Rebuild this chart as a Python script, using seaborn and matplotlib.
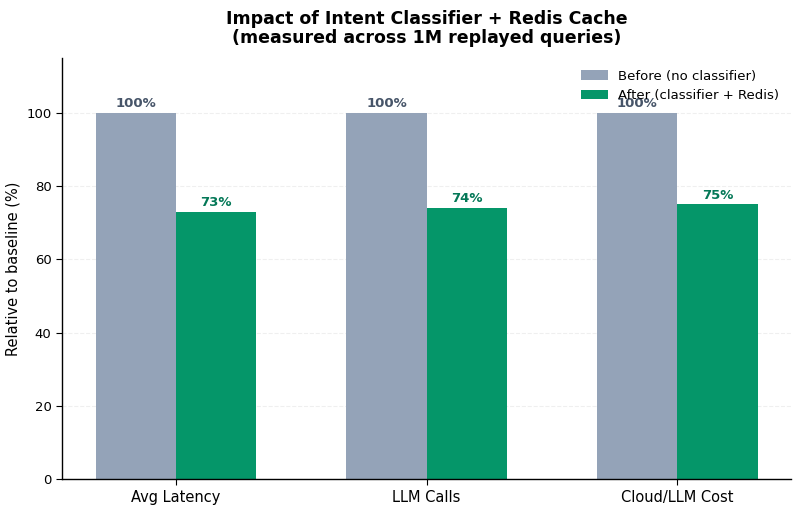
import seaborn as sns
import matplotlib.pyplot as plt
import pandas as pd

metrics = ["Avg Latency", "LLM Calls", "Cloud/LLM Cost"]
before_vals = [100, 100, 100]
after_vals = [73, 74, 75]
series = ["Before (no classifier)", "After (classifier + Redis)"]

df = pd.DataFrame({
    "metric": metrics * 2,
    "value": before_vals + after_vals,
    "series": [series[0]] * 3 + [series[1]] * 3,
})

sns.set_style("white")
plt.rcParams['font.family'] = ['DejaVu Sans']
plt.rcParams['text.color'] = 'black'
plt.rcParams['axes.labelcolor'] = 'black'
plt.rcParams['xtick.color'] = 'black'
plt.rcParams['ytick.color'] = 'black'

fig, ax = plt.subplots(figsize=(8, 5.12), dpi=100)
colors = ["#94a3b8", "#059669"]
sns.barplot(data=df, x="metric", y="value", hue="series", palette=colors,
            width=0.64, saturation=1, ax=ax, errorbar=None, linewidth=0)

# etiquetas encima de las barras
label_colors = ["#475569", "#047857"]
for cont, c in zip(ax.containers, label_colors):
    ax.bar_label(cont, labels=[f"{v:.0f}%" for v in cont.datavalues],
                 padding=2, color=c, fontweight='bold', fontsize=9.5)

ax.set_ylim(0, 115)
ax.set_xlim(-0.454, 2.454)
ax.set_xlabel("")
ax.set_ylabel("Relative to baseline (%)", fontsize=10.5)
ax.tick_params(axis='x', labelsize=10.5, bottom=True, length=4)
ax.tick_params(axis='y', labelsize=9.5, left=True, length=4)
ax.yaxis.grid(True, linestyle='--', alpha=0.3)
ax.set_axisbelow(True)
for s in ["top", "right"]:
    ax.spines[s].set_visible(False)
for s in ["left", "bottom"]:
    ax.spines[s].set_color("black")
    ax.spines[s].set_linewidth(1)

ax.legend(title=None, frameon=False, loc="upper right", fontsize=9.5)
ax.set_title("Impact of Intent Classifier + Redis Cache\n(measured across 1M replayed queries)",
             fontsize=12.5, fontweight='bold', pad=11, linespacing=1.05)

plt.subplots_adjust(left=0.0775, right=0.989, bottom=0.064, top=0.887)
plt.savefig("out.png")
